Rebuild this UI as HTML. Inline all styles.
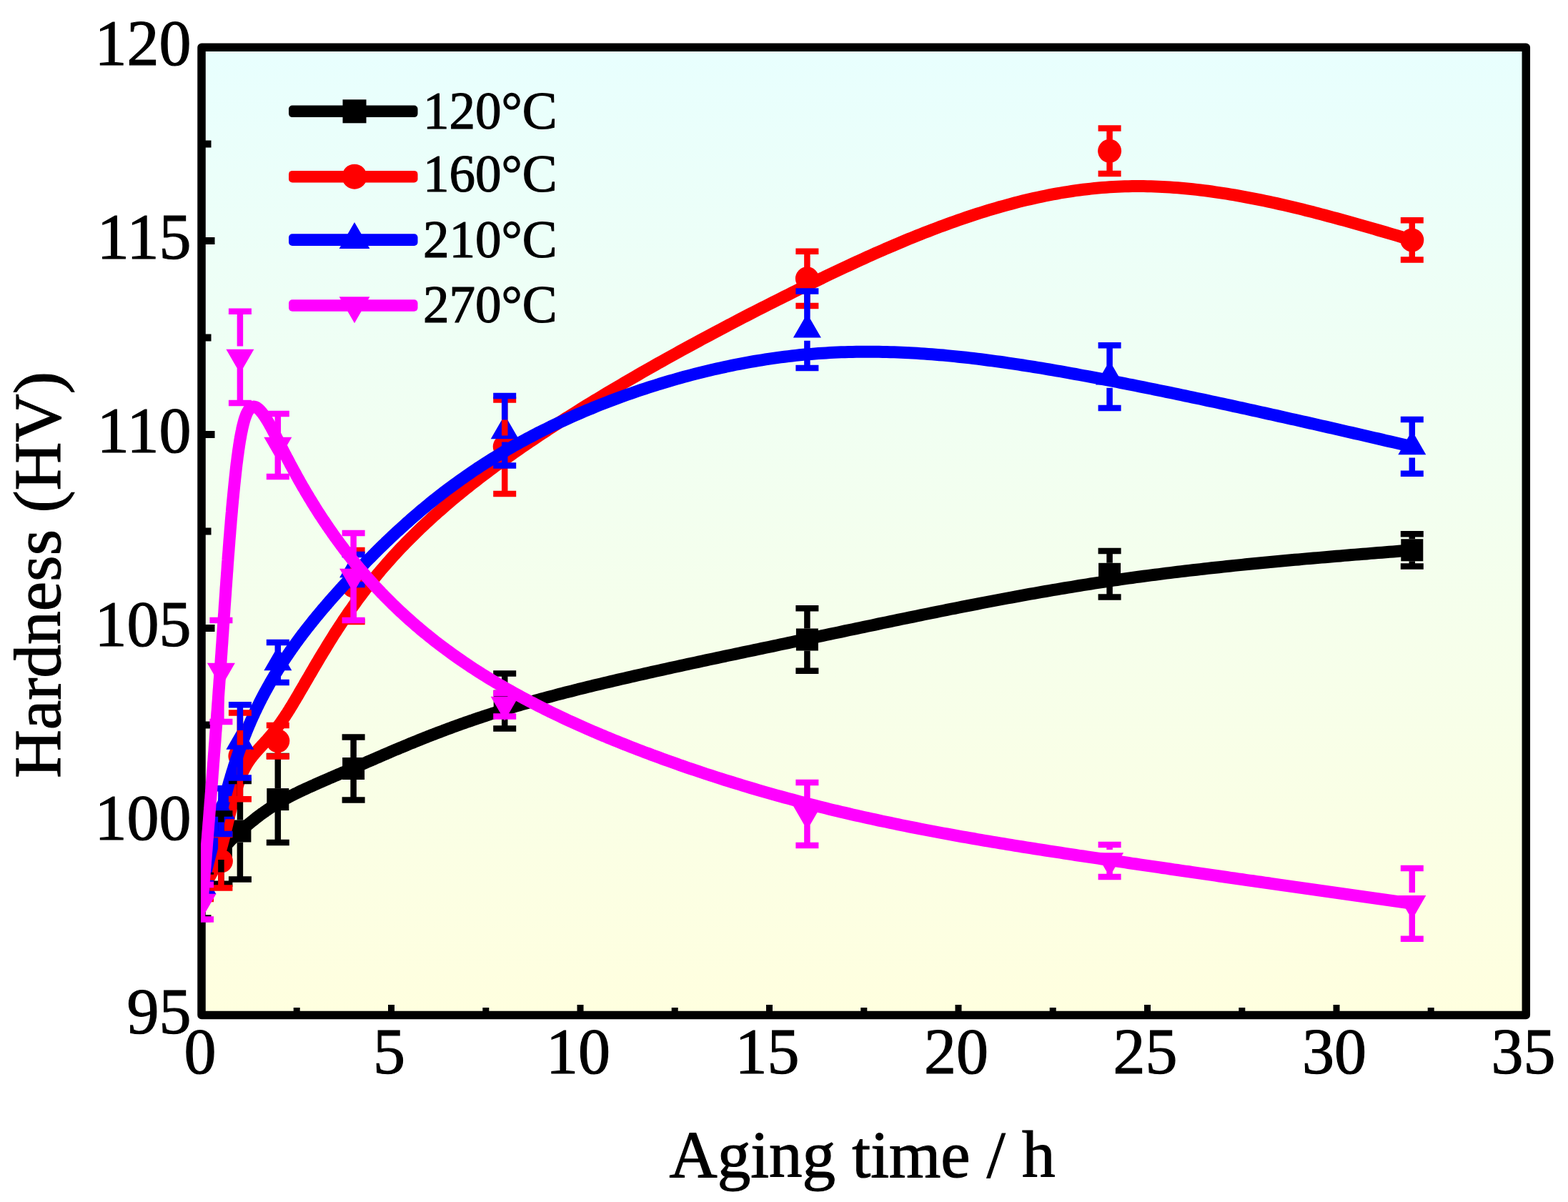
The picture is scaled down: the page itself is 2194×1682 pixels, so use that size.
<!DOCTYPE html>
<html><head><meta charset="utf-8"><title>Hardness vs aging time</title>
<style>html,body{margin:0;padding:0;background:#fff;width:2194px;height:1682px;overflow:hidden}svg{display:block}</style>
</head><body>
<svg width="2194" height="1682" viewBox="0 0 2194 1682"><defs><linearGradient id="bg" x1="0" y1="0" x2="0" y2="1"><stop offset="0" stop-color="#e8fffe"/><stop offset="1" stop-color="#ffffdf"/></linearGradient></defs>
<rect x="282" y="66.2" width="1853.3" height="1354.3" fill="url(#bg)"/>
<clipPath id="clip"><rect x="281" y="66.2" width="1854.3" height="1354.3"/></clipPath>
<rect x="282" y="66.2" width="1853.3" height="1354.3" fill="none" stroke="#000" stroke-width="11.5" stroke-linejoin="round"/>
<path d="M415.2,1420.5v-10.5 M547.5,1420.5v-14.5 M679.8,1420.5v-10.5 M812,1420.5v-14.5 M944.2,1420.5v-10.5 M1076.5,1420.5v-14.5 M1208.8,1420.5v-10.5 M1341,1420.5v-14.5 M1473.2,1420.5v-10.5 M1605.5,1420.5v-14.5 M1737.8,1420.5v-10.5 M1870,1420.5v-14.5 M2002.2,1420.5v-10.5" stroke="#000" stroke-width="9" fill="none"/>
<path d="M282,1285.2h13.5 M282,1149.8h18.5 M282,1014.4h13.5 M282,878.9h18.5 M282,743.5h13.5 M282,608h18.5 M282,472.6h13.5 M282,337.1h18.5 M282,201.6h13.5" stroke="#000" stroke-width="10" fill="none"/>
<g clip-path="url(#clip)">
<path d="M283,1240 L283.3,1239.3 L283.7,1238.7 L284,1238 L284.3,1237.4 L284.7,1236.7 L285,1236.1 L285.3,1235.4 L285.6,1234.8 L286,1234.1 L286.3,1233.5 L286.6,1232.8 L287,1232.2 L287.3,1231.5 L287.6,1230.9 L288,1230.2 L288.3,1229.6 L288.6,1228.9 L289,1228.3 L289.3,1227.6 L289.6,1227 L289.9,1226.3 L290.3,1225.7 L290.6,1225 L290.9,1224.4 L291.3,1223.8 L291.6,1223.1 L291.9,1222.5 L292.3,1221.9 L292.6,1221.2 L292.9,1220.6 L293.2,1220 L293.6,1219.3 L293.9,1218.7 L294.2,1218.1 L294.6,1217.5 L294.9,1216.8 L295.2,1216.2 L295.6,1215.6 L295.9,1215 L296.2,1214.4 L296.6,1213.8 L296.9,1213.2 L297.2,1212.6 L297.5,1212 L297.9,1211.3 L298.2,1210.8 L298.5,1210.2 L298.9,1209.6 L299.2,1209 L299.5,1208.4 L299.9,1207.8 L300.2,1207.2 L300.5,1206.6 L300.9,1206.1 L301.2,1205.5 L301.5,1204.9 L301.8,1204.3 L302.2,1203.8 L302.5,1203.2 L302.8,1202.7 L303.2,1202.1 L303.5,1201.5 L303.8,1201 L304.2,1200.5 L304.5,1199.9 L304.8,1199.4 L305.2,1198.8 L305.5,1198.3 L305.8,1197.8 L306.1,1197.3 L306.5,1196.7 L306.8,1196.2 L307.1,1195.7 L307.5,1195.2 L307.8,1194.7 L308.1,1194.2 L308.5,1193.7 L308.8,1193.2 L309.1,1192.7 L309.4,1192.2 L309.8,1191.8 L310.1,1191.3 L310.4,1190.8 L310.8,1190.3 L311.1,1189.9 L311.4,1189.4 L311.8,1189 L312.1,1188.5 L312.4,1188.1 L312.8,1187.6 L313.1,1187.2 L313.4,1186.7 L313.8,1186.3 L314.1,1185.9 L314.4,1185.5 L314.8,1185 L315.1,1184.6 L315.5,1184.2 L315.8,1183.8 L316.1,1183.4 L316.5,1182.9 L316.8,1182.5 L317.2,1182.1 L317.5,1181.7 L317.9,1181.3 L318.2,1180.9 L318.5,1180.5 L318.9,1180.1 L319.2,1179.7 L319.6,1179.3 L320,1178.9 L320.3,1178.5 L320.7,1178.2 L321,1177.8 L321.4,1177.4 L321.8,1177 L322.1,1176.6 L322.5,1176.2 L322.9,1175.8 L323.2,1175.5 L323.6,1175.1 L324,1174.7 L324.4,1174.3 L324.7,1173.9 L325.1,1173.6 L325.5,1173.2 L325.9,1172.8 L326.3,1172.4 L326.7,1172 L327.1,1171.7 L327.5,1171.3 L327.9,1170.9 L328.3,1170.5 L328.7,1170.1 L329.1,1169.8 L329.5,1169.4 L329.9,1169 L330.3,1168.6 L330.7,1168.2 L331.1,1167.8 L331.6,1167.4 L332,1167.1 L332.4,1166.7 L332.9,1166.3 L333.3,1165.9 L333.7,1165.5 L334.2,1165.1 L334.6,1164.7 L335.1,1164.3 L335.5,1163.9 L336,1163.5 L336.5,1163.1 L336.9,1162.6 L337.4,1162.2 L337.9,1161.8 L338.4,1161.4 L338.8,1161 L339.3,1160.6 L339.8,1160.1 L340.3,1159.7 L340.8,1159.3 L341.3,1158.8 L341.8,1158.4 L342.3,1158 L342.8,1157.5 L343.4,1157.1 L343.9,1156.6 L344.4,1156.2 L344.9,1155.7 L345.5,1155.2 L346,1154.8 L346.6,1154.3 L347.1,1153.8 L347.7,1153.4 L348.2,1152.9 L348.8,1152.4 L349.4,1152 L350,1151.5 L350.5,1151 L351.1,1150.5 L351.7,1150 L352.3,1149.5 L352.9,1149 L353.5,1148.6 L354.1,1148.1 L354.8,1147.6 L355.4,1147.1 L356,1146.6 L356.6,1146.1 L357.3,1145.6 L357.9,1145 L358.6,1144.5 L359.2,1144 L359.9,1143.5 L360.6,1143 L361.2,1142.5 L361.9,1142 L362.6,1141.5 L363.3,1140.9 L364,1140.4 L364.7,1139.9 L365.4,1139.4 L366.1,1138.8 L366.9,1138.3 L367.6,1137.8 L368.3,1137.3 L369.1,1136.7 L369.8,1136.2 L370.6,1135.7 L371.3,1135.1 L372.1,1134.6 L372.9,1134.1 L373.7,1133.5 L374.5,1133 L375.3,1132.4 L376.1,1131.9 L376.9,1131.4 L377.7,1130.8 L378.5,1130.3 L379.4,1129.7 L380.2,1129.2 L381.1,1128.7 L381.9,1128.1 L382.8,1127.6 L383.6,1127 L384.5,1126.5 L385.4,1125.9 L386.3,1125.4 L387.2,1124.8 L388.1,1124.3 L389,1123.7 L389.9,1123.2 L390.9,1122.6 L391.8,1122.1 L392.8,1121.6 L393.7,1121 L394.7,1120.5 L395.6,1119.9 L396.6,1119.4 L397.6,1118.8 L398.6,1118.3 L399.6,1117.7 L400.6,1117.2 L401.7,1116.6 L402.7,1116.1 L403.7,1115.5 L404.8,1115 L405.8,1114.4 L406.9,1113.9 L408,1113.3 L409.1,1112.8 L410.1,1112.2 L411.2,1111.7 L412.4,1111.1 L413.5,1110.6 L414.6,1110 L415.8,1109.5 L416.9,1108.9 L418.1,1108.3 L419.2,1107.8 L420.4,1107.2 L421.6,1106.7 L422.8,1106.1 L424,1105.5 L425.3,1104.9 L426.5,1104.4 L427.7,1103.8 L429,1103.2 L430.3,1102.6 L431.6,1102 L432.8,1101.5 L434.2,1100.9 L435.5,1100.3 L436.8,1099.7 L438.1,1099.1 L439.5,1098.5 L440.8,1097.9 L442.2,1097.2 L443.6,1096.6 L445,1096 L446.4,1095.4 L447.8,1094.8 L449.3,1094.1 L450.7,1093.5 L452.2,1092.9 L453.7,1092.2 L455.2,1091.6 L456.7,1090.9 L458.2,1090.3 L459.7,1089.6 L461.2,1088.9 L462.8,1088.3 L464.4,1087.6 L465.9,1086.9 L467.5,1086.2 L469.1,1085.5 L470.8,1084.8 L472.4,1084.1 L474.1,1083.4 L475.7,1082.7 L477.4,1082 L479.1,1081.2 L480.8,1080.5 L482.5,1079.8 L484.3,1079 L486,1078.3 L487.8,1077.5 L489.6,1076.7 L491.4,1076 L493.2,1075.2 L495,1074.4 L496.9,1073.6 L498.7,1072.8 L500.6,1072 L502.5,1071.2 L504.4,1070.3 L506.4,1069.5 L508.3,1068.7 L510.3,1067.8 L512.2,1067 L514.2,1066.1 L516.2,1065.2 L518.3,1064.4 L520.3,1063.5 L522.4,1062.6 L524.4,1061.7 L526.5,1060.8 L528.6,1059.9 L530.8,1058.9 L532.9,1058 L535.1,1057.1 L537.3,1056.1 L539.5,1055.2 L541.7,1054.2 L544,1053.3 L546.2,1052.3 L548.5,1051.3 L550.8,1050.3 L553.1,1049.3 L555.5,1048.3 L557.9,1047.3 L560.2,1046.3 L562.7,1045.3 L565.1,1044.3 L567.5,1043.3 L570,1042.3 L572.5,1041.2 L575,1040.2 L577.6,1039.2 L580.1,1038.1 L582.7,1037.1 L585.3,1036 L587.9,1035 L590.6,1033.9 L593.3,1032.8 L596,1031.8 L598.7,1030.7 L601.4,1029.6 L604.2,1028.5 L607,1027.5 L609.8,1026.4 L612.7,1025.3 L615.6,1024.2 L618.5,1023.1 L621.4,1022 L624.3,1020.9 L627.3,1019.8 L630.3,1018.7 L633.3,1017.6 L636.4,1016.4 L639.5,1015.3 L642.6,1014.2 L645.7,1013.1 L648.9,1012 L652.1,1010.8 L655.3,1009.7 L658.5,1008.6 L661.8,1007.5 L665.1,1006.3 L668.5,1005.2 L671.8,1004.1 L675.2,1002.9 L678.6,1001.8 L682.1,1000.7 L685.6,999.5 L689.1,998.4 L692.6,997.3 L696.2,996.1 L699.8,995 L703.4,993.9 L707.1,992.7 L710.8,991.6 L714.5,990.5 L718.2,989.3 L722,988.2 L725.9,987.1 L729.7,985.9 L733.6,984.8 L737.5,983.7 L741.5,982.5 L745.5,981.4 L749.5,980.3 L753.5,979.2 L757.6,978 L761.7,976.9 L765.9,975.8 L770,974.7 L774.2,973.6 L778.5,972.4 L782.7,971.3 L787,970.2 L791.3,969.1 L795.7,968 L800.1,966.9 L804.5,965.8 L808.9,964.6 L813.4,963.5 L817.8,962.4 L822.3,961.3 L826.9,960.2 L831.4,959.1 L836,958 L840.6,956.9 L845.3,955.8 L849.9,954.7 L854.6,953.6 L859.3,952.5 L864,951.4 L868.7,950.3 L873.5,949.2 L878.3,948.1 L883.1,947 L887.9,945.9 L892.8,944.8 L897.6,943.7 L902.5,942.6 L907.4,941.5 L912.3,940.4 L917.3,939.3 L922.2,938.2 L927.2,937.1 L932.2,936 L937.2,934.9 L942.2,933.8 L947.2,932.7 L952.2,931.6 L957.3,930.5 L962.4,929.4 L967.5,928.3 L972.6,927.2 L977.7,926.1 L982.8,925 L987.9,923.9 L993.1,922.8 L998.2,921.7 L1003.4,920.6 L1008.6,919.5 L1013.8,918.4 L1018.9,917.3 L1024.2,916.2 L1029.4,915.1 L1034.6,914 L1039.8,912.9 L1045,911.8 L1050.3,910.7 L1055.5,909.6 L1060.8,908.5 L1066,907.4 L1071.3,906.3 L1076.6,905.2 L1081.8,904.1 L1087.1,903 L1092.4,901.8 L1097.7,900.7 L1103,899.6 L1108.2,898.5 L1113.5,897.4 L1118.8,896.3 L1124.1,895.2 L1129.4,894.1 L1134.7,893 L1140,891.9 L1145.3,890.7 L1150.6,889.6 L1155.8,888.5 L1161.1,887.4 L1166.4,886.3 L1171.7,885.2 L1177,884.1 L1182.3,882.9 L1187.6,881.8 L1192.9,880.7 L1198.2,879.6 L1203.5,878.5 L1208.8,877.4 L1214,876.3 L1219.3,875.2 L1224.6,874.1 L1229.9,872.9 L1235.2,871.8 L1240.5,870.7 L1245.8,869.6 L1251.1,868.5 L1256.4,867.4 L1261.7,866.3 L1266.9,865.2 L1272.2,864.2 L1277.5,863.1 L1282.8,862 L1288.1,860.9 L1293.4,859.8 L1298.7,858.7 L1304,857.7 L1309.3,856.6 L1314.5,855.5 L1319.8,854.5 L1325.1,853.4 L1330.4,852.3 L1335.7,851.3 L1341,850.2 L1346.3,849.2 L1351.6,848.2 L1356.9,847.1 L1362.2,846.1 L1367.4,845.1 L1372.7,844 L1378,843 L1383.3,842 L1388.6,841 L1393.9,840 L1399.2,839 L1404.5,838 L1409.8,837 L1415.1,836.1 L1420.3,835.1 L1425.6,834.1 L1430.9,833.2 L1436.2,832.2 L1441.5,831.2 L1446.8,830.3 L1452.1,829.4 L1457.4,828.4 L1462.7,827.5 L1468,826.6 L1473.2,825.7 L1478.5,824.8 L1483.8,823.9 L1489.1,823 L1494.4,822.1 L1499.7,821.3 L1505,820.4 L1510.3,819.5 L1515.6,818.7 L1520.9,817.9 L1526.1,817 L1531.4,816.2 L1536.7,815.4 L1542,814.6 L1547.3,813.8 L1552.6,813 L1557.9,812.2 L1563.2,811.5 L1568.5,810.7 L1573.8,809.9 L1579,809.2 L1584.3,808.5 L1589.6,807.7 L1594.9,807 L1600.2,806.3 L1605.5,805.6 L1610.8,804.9 L1616.1,804.2 L1621.4,803.6 L1626.7,802.9 L1631.9,802.2 L1637.2,801.6 L1642.5,800.9 L1647.8,800.3 L1653.1,799.6 L1658.4,799 L1663.7,798.4 L1669,797.8 L1674.3,797.2 L1679.6,796.6 L1684.8,796 L1690.1,795.4 L1695.4,794.8 L1700.7,794.2 L1706,793.7 L1711.3,793.1 L1716.6,792.5 L1721.9,792 L1727.2,791.4 L1732.5,790.9 L1737.8,790.4 L1743,789.8 L1748.3,789.3 L1753.6,788.8 L1758.9,788.3 L1764.2,787.8 L1769.5,787.3 L1774.8,786.8 L1780.1,786.3 L1785.4,785.8 L1790.6,785.3 L1795.9,784.8 L1801.2,784.3 L1806.5,783.8 L1811.8,783.3 L1817.1,782.9 L1822.4,782.4 L1827.7,781.9 L1833,781.5 L1838.3,781 L1843.5,780.6 L1848.8,780.1 L1854.1,779.7 L1859.4,779.2 L1864.7,778.8 L1870,778.3 L1875.3,777.9 L1880.6,777.4 L1885.9,777 L1891.2,776.6 L1896.4,776.1 L1901.7,775.7 L1907,775.3 L1912.3,774.9 L1917.6,774.4 L1922.9,774 L1928.2,773.6 L1933.5,773.2 L1938.8,772.7 L1944.1,772.3 L1949.3,771.9 L1954.6,771.5 L1959.9,771.1 L1965.2,770.6 L1970.5,770.2 L1975.8,769.8" stroke="#000000" stroke-width="17" fill="none" stroke-linejoin="round" stroke-linecap="round"/>
<rect x="267.5" y="1224.5" width="31" height="31" fill="#000000"/>
<rect x="293.9" y="1172.1" width="31" height="31" fill="#000000"/>
<rect x="320.4" y="1147.5" width="31" height="31" fill="#000000"/>
<rect x="373.3" y="1103.1" width="31" height="31" fill="#000000"/>
<rect x="479.1" y="1060" width="31" height="31" fill="#000000"/>
<rect x="690.7" y="965.7" width="31" height="31" fill="#000000"/>
<rect x="1113.9" y="879.5" width="31" height="31" fill="#000000"/>
<rect x="1537.1" y="787.8" width="31" height="31" fill="#000000"/>
<rect x="1960.3" y="754.3" width="31" height="31" fill="#000000"/>
<path d="M283,1243 L283.3,1242.5 L283.7,1242 L284,1241.6 L284.3,1241.1 L284.7,1240.6 L285,1240.1 L285.3,1239.7 L285.6,1239.2 L286,1238.7 L286.3,1238.2 L286.6,1237.7 L287,1237.2 L287.3,1236.7 L287.6,1236.3 L288,1235.8 L288.3,1235.3 L288.6,1234.8 L289,1234.2 L289.3,1233.7 L289.6,1233.2 L289.9,1232.7 L290.3,1232.2 L290.6,1231.6 L290.9,1231.1 L291.3,1230.6 L291.6,1230 L291.9,1229.5 L292.3,1228.9 L292.6,1228.4 L292.9,1227.8 L293.2,1227.2 L293.6,1226.6 L293.9,1226 L294.2,1225.5 L294.6,1224.9 L294.9,1224.2 L295.2,1223.6 L295.6,1223 L295.9,1222.4 L296.2,1221.7 L296.6,1221.1 L296.9,1220.4 L297.2,1219.8 L297.5,1219.1 L297.9,1218.4 L298.2,1217.7 L298.5,1217 L298.9,1216.3 L299.2,1215.6 L299.5,1214.8 L299.9,1214.1 L300.2,1213.3 L300.5,1212.5 L300.9,1211.8 L301.2,1211 L301.5,1210.2 L301.8,1209.4 L302.2,1208.5 L302.5,1207.7 L302.8,1206.8 L303.2,1206 L303.5,1205.1 L303.8,1204.2 L304.2,1203.3 L304.5,1202.4 L304.8,1201.4 L305.2,1200.5 L305.5,1199.5 L305.8,1198.6 L306.1,1197.6 L306.5,1196.6 L306.8,1195.6 L307.1,1194.5 L307.5,1193.5 L307.8,1192.4 L308.1,1191.3 L308.5,1190.2 L308.8,1189.1 L309.1,1188 L309.4,1186.8 L309.8,1185.7 L310.1,1184.5 L310.4,1183.3 L310.8,1182.1 L311.1,1180.8 L311.4,1179.6 L311.8,1178.3 L312.1,1177.1 L312.4,1175.8 L312.8,1174.5 L313.1,1173.2 L313.4,1171.9 L313.8,1170.5 L314.1,1169.2 L314.4,1167.8 L314.8,1166.5 L315.1,1165.1 L315.5,1163.7 L315.8,1162.3 L316.1,1160.9 L316.5,1159.5 L316.8,1158.1 L317.2,1156.7 L317.5,1155.2 L317.9,1153.8 L318.2,1152.4 L318.5,1150.9 L318.9,1149.5 L319.2,1148 L319.6,1146.5 L320,1145.1 L320.3,1143.6 L320.7,1142.2 L321,1140.7 L321.4,1139.2 L321.8,1137.7 L322.1,1136.3 L322.5,1134.8 L322.9,1133.3 L323.2,1131.8 L323.6,1130.4 L324,1128.9 L324.4,1127.4 L324.7,1126 L325.1,1124.5 L325.5,1123.1 L325.9,1121.6 L326.3,1120.2 L326.7,1118.7 L327.1,1117.3 L327.5,1115.9 L327.9,1114.4 L328.3,1113 L328.7,1111.6 L329.1,1110.2 L329.5,1108.8 L329.9,1107.4 L330.3,1106 L330.7,1104.7 L331.1,1103.3 L331.6,1102 L332,1100.6 L332.4,1099.3 L332.9,1098 L333.3,1096.7 L333.7,1095.4 L334.2,1094.1 L334.6,1092.9 L335.1,1091.6 L335.5,1090.4 L336,1089.2 L336.5,1088 L336.9,1086.8 L337.4,1085.6 L337.9,1084.5 L338.4,1083.3 L338.8,1082.2 L339.3,1081.1 L339.8,1080 L340.3,1079 L340.8,1077.9 L341.3,1076.9 L341.8,1075.9 L342.3,1074.9 L342.8,1073.9 L343.4,1073 L343.9,1072.1 L344.4,1071.1 L344.9,1070.2 L345.5,1069.3 L346,1068.5 L346.6,1067.6 L347.1,1066.7 L347.7,1065.9 L348.2,1065.1 L348.8,1064.2 L349.4,1063.4 L350,1062.6 L350.5,1061.8 L351.1,1061 L351.7,1060.3 L352.3,1059.5 L352.9,1058.7 L353.5,1058 L354.1,1057.2 L354.8,1056.4 L355.4,1055.7 L356,1054.9 L356.6,1054.2 L357.3,1053.4 L357.9,1052.7 L358.6,1052 L359.2,1051.2 L359.9,1050.5 L360.6,1049.7 L361.2,1049 L361.9,1048.2 L362.6,1047.5 L363.3,1046.7 L364,1045.9 L364.7,1045.2 L365.4,1044.4 L366.1,1043.6 L366.9,1042.8 L367.6,1042 L368.3,1041.2 L369.1,1040.4 L369.8,1039.6 L370.6,1038.7 L371.3,1037.9 L372.1,1037 L372.9,1036.2 L373.7,1035.3 L374.5,1034.4 L375.3,1033.5 L376.1,1032.5 L376.9,1031.6 L377.7,1030.6 L378.5,1029.7 L379.4,1028.7 L380.2,1027.7 L381.1,1026.6 L381.9,1025.6 L382.8,1024.5 L383.6,1023.4 L384.5,1022.3 L385.4,1021.2 L386.3,1020 L387.2,1018.9 L388.1,1017.7 L389,1016.4 L389.9,1015.2 L390.9,1013.9 L391.8,1012.6 L392.8,1011.3 L393.7,1009.9 L394.7,1008.5 L395.6,1007.1 L396.6,1005.7 L397.6,1004.2 L398.6,1002.7 L399.6,1001.2 L400.6,999.6 L401.7,998 L402.7,996.4 L403.7,994.7 L404.8,993.1 L405.8,991.4 L406.9,989.6 L408,987.9 L409.1,986.1 L410.1,984.3 L411.2,982.4 L412.4,980.6 L413.5,978.7 L414.6,976.8 L415.8,974.8 L416.9,972.9 L418.1,970.9 L419.2,968.9 L420.4,966.9 L421.6,964.8 L422.8,962.8 L424,960.7 L425.3,958.6 L426.5,956.4 L427.7,954.3 L429,952.1 L430.3,949.9 L431.6,947.7 L432.8,945.5 L434.2,943.3 L435.5,941 L436.8,938.7 L438.1,936.5 L439.5,934.1 L440.8,931.8 L442.2,929.5 L443.6,927.1 L445,924.8 L446.4,922.4 L447.8,920 L449.3,917.6 L450.7,915.2 L452.2,912.8 L453.7,910.3 L455.2,907.9 L456.7,905.4 L458.2,902.9 L459.7,900.5 L461.2,898 L462.8,895.5 L464.4,893 L465.9,890.5 L467.5,887.9 L469.1,885.4 L470.8,882.9 L472.4,880.3 L474.1,877.8 L475.7,875.2 L477.4,872.7 L479.1,870.1 L480.8,867.5 L482.5,865 L484.3,862.4 L486,859.8 L487.8,857.2 L489.6,854.6 L491.4,852.1 L493.2,849.5 L495,846.9 L496.9,844.3 L498.7,841.7 L500.6,839.1 L502.5,836.5 L504.4,834 L506.4,831.4 L508.3,828.8 L510.3,826.2 L512.2,823.6 L514.2,821.1 L516.2,818.5 L518.3,815.9 L520.3,813.4 L522.4,810.8 L524.4,808.2 L526.5,805.7 L528.6,803.1 L530.8,800.6 L532.9,798 L535.1,795.5 L537.3,793 L539.5,790.4 L541.7,787.9 L544,785.3 L546.2,782.8 L548.5,780.3 L550.8,777.7 L553.1,775.2 L555.5,772.7 L557.9,770.1 L560.2,767.6 L562.7,765.1 L565.1,762.6 L567.5,760 L570,757.5 L572.5,755 L575,752.5 L577.6,749.9 L580.1,747.4 L582.7,744.9 L585.3,742.4 L587.9,739.8 L590.6,737.3 L593.3,734.8 L596,732.2 L598.7,729.7 L601.4,727.2 L604.2,724.7 L607,722.1 L609.8,719.6 L612.7,717 L615.6,714.5 L618.5,712 L621.4,709.4 L624.3,706.9 L627.3,704.3 L630.3,701.8 L633.3,699.2 L636.4,696.7 L639.5,694.1 L642.6,691.6 L645.7,689 L648.9,686.4 L652.1,683.9 L655.3,681.3 L658.5,678.7 L661.8,676.1 L665.1,673.6 L668.5,671 L671.8,668.4 L675.2,665.8 L678.6,663.2 L682.1,660.6 L685.6,658 L689.1,655.4 L692.6,652.8 L696.2,650.1 L699.8,647.5 L703.4,644.9 L707.1,642.3 L710.8,639.6 L714.5,637 L718.2,634.3 L722,631.7 L725.9,629 L729.7,626.3 L733.6,623.7 L737.5,621 L741.5,618.3 L745.5,615.6 L749.5,612.9 L753.5,610.2 L757.6,607.5 L761.7,604.8 L765.9,602.1 L770,599.3 L774.2,596.6 L778.5,593.9 L782.7,591.1 L787,588.4 L791.3,585.6 L795.7,582.9 L800.1,580.1 L804.5,577.4 L808.9,574.6 L813.4,571.8 L817.8,569.1 L822.3,566.3 L826.9,563.5 L831.4,560.7 L836,558 L840.6,555.2 L845.3,552.4 L849.9,549.6 L854.6,546.8 L859.3,544 L864,541.2 L868.7,538.5 L873.5,535.7 L878.3,532.9 L883.1,530.1 L887.9,527.3 L892.8,524.5 L897.6,521.7 L902.5,518.9 L907.4,516.1 L912.3,513.3 L917.3,510.5 L922.2,507.7 L927.2,505 L932.2,502.2 L937.2,499.4 L942.2,496.6 L947.2,493.8 L952.2,491 L957.3,488.3 L962.4,485.5 L967.5,482.7 L972.6,480 L977.7,477.2 L982.8,474.4 L987.9,471.7 L993.1,468.9 L998.2,466.2 L1003.4,463.4 L1008.6,460.7 L1013.8,457.9 L1018.9,455.2 L1024.2,452.5 L1029.4,449.8 L1034.6,447 L1039.8,444.3 L1045,441.6 L1050.3,438.9 L1055.5,436.2 L1060.8,433.5 L1066,430.9 L1071.3,428.2 L1076.6,425.5 L1081.8,422.9 L1087.1,420.2 L1092.4,417.6 L1097.7,414.9 L1103,412.3 L1108.2,409.7 L1113.5,407 L1118.8,404.4 L1124.1,401.8 L1129.4,399.2 L1134.7,396.7 L1140,394.1 L1145.3,391.5 L1150.6,389 L1155.8,386.4 L1161.1,383.9 L1166.4,381.4 L1171.7,378.9 L1177,376.4 L1182.3,373.9 L1187.6,371.5 L1192.9,369 L1198.2,366.6 L1203.5,364.1 L1208.8,361.7 L1214,359.3 L1219.3,357 L1224.6,354.6 L1229.9,352.3 L1235.2,350 L1240.5,347.6 L1245.8,345.4 L1251.1,343.1 L1256.4,340.9 L1261.7,338.6 L1266.9,336.4 L1272.2,334.2 L1277.5,332.1 L1282.8,329.9 L1288.1,327.8 L1293.4,325.7 L1298.7,323.7 L1304,321.6 L1309.3,319.6 L1314.5,317.6 L1319.8,315.7 L1325.1,313.7 L1330.4,311.8 L1335.7,309.9 L1341,308 L1346.3,306.2 L1351.6,304.4 L1356.9,302.6 L1362.2,300.9 L1367.4,299.2 L1372.7,297.5 L1378,295.8 L1383.3,294.2 L1388.6,292.6 L1393.9,291.1 L1399.2,289.5 L1404.5,288.1 L1409.8,286.6 L1415.1,285.2 L1420.3,283.8 L1425.6,282.4 L1430.9,281.1 L1436.2,279.8 L1441.5,278.6 L1446.8,277.4 L1452.1,276.2 L1457.4,275.1 L1462.7,274 L1468,272.9 L1473.2,271.9 L1478.5,271 L1483.8,270 L1489.1,269.1 L1494.4,268.3 L1499.7,267.5 L1505,266.7 L1510.3,266 L1515.6,265.3 L1520.9,264.7 L1526.1,264.1 L1531.4,263.5 L1536.7,263 L1542,262.6 L1547.3,262.2 L1552.6,261.8 L1557.9,261.5 L1563.2,261.2 L1568.5,261 L1573.8,260.8 L1579,260.7 L1584.3,260.6 L1589.6,260.6 L1594.9,260.6 L1600.2,260.6 L1605.5,260.7 L1610.8,260.8 L1616.1,261 L1621.4,261.2 L1626.7,261.5 L1631.9,261.8 L1637.2,262.1 L1642.5,262.4 L1647.8,262.8 L1653.1,263.3 L1658.4,263.8 L1663.7,264.3 L1669,264.8 L1674.3,265.4 L1679.6,266 L1684.8,266.7 L1690.1,267.3 L1695.4,268 L1700.7,268.8 L1706,269.6 L1711.3,270.4 L1716.6,271.2 L1721.9,272.1 L1727.2,272.9 L1732.5,273.9 L1737.8,274.8 L1743,275.8 L1748.3,276.8 L1753.6,277.8 L1758.9,278.8 L1764.2,279.9 L1769.5,281 L1774.8,282.1 L1780.1,283.3 L1785.4,284.4 L1790.6,285.6 L1795.9,286.8 L1801.2,288 L1806.5,289.3 L1811.8,290.6 L1817.1,291.8 L1822.4,293.1 L1827.7,294.5 L1833,295.8 L1838.3,297.1 L1843.5,298.5 L1848.8,299.9 L1854.1,301.3 L1859.4,302.7 L1864.7,304.1 L1870,305.5 L1875.3,307 L1880.6,308.4 L1885.9,309.9 L1891.2,311.4 L1896.4,312.9 L1901.7,314.4 L1907,315.9 L1912.3,317.4 L1917.6,318.9 L1922.9,320.4 L1928.2,322 L1933.5,323.5 L1938.8,325 L1944.1,326.6 L1949.3,328.1 L1954.6,329.7 L1959.9,331.2 L1965.2,332.8 L1970.5,334.3 L1975.8,335.9" stroke="#ff0000" stroke-width="17" fill="none" stroke-linejoin="round" stroke-linecap="round"/>
<circle cx="283" cy="1243" r="16.5" fill="#ff0000"/>
<circle cx="309.4" cy="1205" r="16.5" fill="#ff0000"/>
<circle cx="335.9" cy="1058" r="16.5" fill="#ff0000"/>
<circle cx="388.8" cy="1036.8" r="16.5" fill="#ff0000"/>
<circle cx="494.6" cy="820" r="16.5" fill="#ff0000"/>
<circle cx="706.2" cy="625" r="16.5" fill="#ff0000"/>
<circle cx="1129.4" cy="389.8" r="16.5" fill="#ff0000"/>
<circle cx="1552.6" cy="211.3" r="16.5" fill="#ff0000"/>
<circle cx="1975.8" cy="335.9" r="16.5" fill="#ff0000"/>
<path d="M283,1240 L283.3,1238.7 L283.7,1237.4 L284,1236.1 L284.3,1234.8 L284.7,1233.4 L285,1232.1 L285.3,1230.8 L285.6,1229.5 L286,1228.2 L286.3,1226.9 L286.6,1225.6 L287,1224.3 L287.3,1222.9 L287.6,1221.6 L288,1220.3 L288.3,1219 L288.6,1217.7 L289,1216.4 L289.3,1215.1 L289.6,1213.8 L289.9,1212.5 L290.3,1211.2 L290.6,1209.8 L290.9,1208.5 L291.3,1207.2 L291.6,1205.9 L291.9,1204.6 L292.3,1203.3 L292.6,1202 L292.9,1200.7 L293.2,1199.4 L293.6,1198.1 L293.9,1196.8 L294.2,1195.5 L294.6,1194.2 L294.9,1192.9 L295.2,1191.6 L295.6,1190.3 L295.9,1189 L296.2,1187.7 L296.6,1186.4 L296.9,1185.1 L297.2,1183.8 L297.5,1182.5 L297.9,1181.2 L298.2,1179.9 L298.5,1178.6 L298.9,1177.3 L299.2,1176 L299.5,1174.7 L299.9,1173.4 L300.2,1172.1 L300.5,1170.8 L300.9,1169.5 L301.2,1168.2 L301.5,1166.9 L301.8,1165.6 L302.2,1164.3 L302.5,1163.1 L302.8,1161.8 L303.2,1160.5 L303.5,1159.2 L303.8,1157.9 L304.2,1156.6 L304.5,1155.3 L304.8,1154.1 L305.2,1152.8 L305.5,1151.5 L305.8,1150.2 L306.1,1149 L306.5,1147.7 L306.8,1146.4 L307.1,1145.1 L307.5,1143.9 L307.8,1142.6 L308.1,1141.3 L308.5,1140 L308.8,1138.8 L309.1,1137.5 L309.4,1136.2 L309.8,1135 L310.1,1133.7 L310.4,1132.4 L310.8,1131.2 L311.1,1129.9 L311.4,1128.7 L311.8,1127.4 L312.1,1126.1 L312.4,1124.9 L312.8,1123.6 L313.1,1122.4 L313.4,1121.1 L313.8,1119.9 L314.1,1118.6 L314.4,1117.3 L314.8,1116.1 L315.1,1114.8 L315.5,1113.6 L315.8,1112.3 L316.1,1111.1 L316.5,1109.8 L316.8,1108.6 L317.2,1107.3 L317.5,1106.1 L317.9,1104.8 L318.2,1103.6 L318.5,1102.3 L318.9,1101.1 L319.2,1099.8 L319.6,1098.6 L320,1097.3 L320.3,1096.1 L320.7,1094.8 L321,1093.6 L321.4,1092.3 L321.8,1091.1 L322.1,1089.8 L322.5,1088.6 L322.9,1087.3 L323.2,1086.1 L323.6,1084.8 L324,1083.6 L324.4,1082.3 L324.7,1081.1 L325.1,1079.8 L325.5,1078.6 L325.9,1077.3 L326.3,1076.1 L326.7,1074.8 L327.1,1073.5 L327.5,1072.3 L327.9,1071 L328.3,1069.8 L328.7,1068.5 L329.1,1067.2 L329.5,1066 L329.9,1064.7 L330.3,1063.5 L330.7,1062.2 L331.1,1060.9 L331.6,1059.7 L332,1058.4 L332.4,1057.1 L332.9,1055.8 L333.3,1054.6 L333.7,1053.3 L334.2,1052 L334.6,1050.7 L335.1,1049.5 L335.5,1048.2 L336,1046.9 L336.5,1045.6 L336.9,1044.3 L337.4,1043 L337.9,1041.7 L338.4,1040.5 L338.8,1039.2 L339.3,1037.9 L339.8,1036.6 L340.3,1035.3 L340.8,1034 L341.3,1032.7 L341.8,1031.4 L342.3,1030.1 L342.8,1028.7 L343.4,1027.4 L343.9,1026.1 L344.4,1024.8 L344.9,1023.5 L345.5,1022.2 L346,1020.8 L346.6,1019.5 L347.1,1018.2 L347.7,1016.9 L348.2,1015.5 L348.8,1014.2 L349.4,1012.9 L350,1011.5 L350.5,1010.2 L351.1,1008.8 L351.7,1007.5 L352.3,1006.2 L352.9,1004.8 L353.5,1003.5 L354.1,1002.1 L354.8,1000.8 L355.4,999.4 L356,998 L356.6,996.7 L357.3,995.3 L357.9,993.9 L358.6,992.6 L359.2,991.2 L359.9,989.8 L360.6,988.4 L361.2,987.1 L361.9,985.7 L362.6,984.3 L363.3,982.9 L364,981.5 L364.7,980.1 L365.4,978.7 L366.1,977.3 L366.9,975.9 L367.6,974.5 L368.3,973.1 L369.1,971.7 L369.8,970.3 L370.6,968.9 L371.3,967.5 L372.1,966.1 L372.9,964.7 L373.7,963.2 L374.5,961.8 L375.3,960.4 L376.1,958.9 L376.9,957.5 L377.7,956.1 L378.5,954.6 L379.4,953.2 L380.2,951.7 L381.1,950.3 L381.9,948.8 L382.8,947.4 L383.6,945.9 L384.5,944.5 L385.4,943 L386.3,941.5 L387.2,940.1 L388.1,938.6 L389,937.1 L389.9,935.7 L390.9,934.2 L391.8,932.7 L392.8,931.2 L393.7,929.7 L394.7,928.2 L395.6,926.7 L396.6,925.2 L397.6,923.7 L398.6,922.2 L399.6,920.7 L400.6,919.2 L401.7,917.7 L402.7,916.2 L403.7,914.7 L404.8,913.1 L405.8,911.6 L406.9,910.1 L408,908.5 L409.1,907 L410.1,905.5 L411.2,903.9 L412.4,902.4 L413.5,900.8 L414.6,899.2 L415.8,897.7 L416.9,896.1 L418.1,894.5 L419.2,893 L420.4,891.4 L421.6,889.8 L422.8,888.2 L424,886.6 L425.3,885 L426.5,883.4 L427.7,881.8 L429,880.1 L430.3,878.5 L431.6,876.9 L432.8,875.3 L434.2,873.6 L435.5,872 L436.8,870.3 L438.1,868.7 L439.5,867 L440.8,865.3 L442.2,863.6 L443.6,861.9 L445,860.3 L446.4,858.6 L447.8,856.9 L449.3,855.1 L450.7,853.4 L452.2,851.7 L453.7,850 L455.2,848.2 L456.7,846.5 L458.2,844.7 L459.7,843 L461.2,841.2 L462.8,839.4 L464.4,837.6 L465.9,835.9 L467.5,834.1 L469.1,832.3 L470.8,830.4 L472.4,828.6 L474.1,826.8 L475.7,824.9 L477.4,823.1 L479.1,821.2 L480.8,819.4 L482.5,817.5 L484.3,815.6 L486,813.7 L487.8,811.8 L489.6,809.9 L491.4,808 L493.2,806.1 L495,804.2 L496.9,802.2 L498.7,800.3 L500.6,798.3 L502.5,796.3 L504.4,794.4 L506.4,792.4 L508.3,790.4 L510.3,788.4 L512.2,786.3 L514.2,784.3 L516.2,782.3 L518.3,780.2 L520.3,778.2 L522.4,776.1 L524.4,774 L526.5,771.9 L528.6,769.8 L530.8,767.7 L532.9,765.6 L535.1,763.5 L537.3,761.4 L539.5,759.2 L541.7,757.1 L544,755 L546.2,752.8 L548.5,750.6 L550.8,748.5 L553.1,746.3 L555.5,744.1 L557.9,742 L560.2,739.8 L562.7,737.6 L565.1,735.4 L567.5,733.2 L570,731 L572.5,728.8 L575,726.5 L577.6,724.3 L580.1,722.1 L582.7,719.9 L585.3,717.7 L587.9,715.4 L590.6,713.2 L593.3,711 L596,708.7 L598.7,706.5 L601.4,704.2 L604.2,702 L607,699.8 L609.8,697.5 L612.7,695.3 L615.6,693 L618.5,690.8 L621.4,688.5 L624.3,686.3 L627.3,684 L630.3,681.8 L633.3,679.6 L636.4,677.3 L639.5,675.1 L642.6,672.8 L645.7,670.6 L648.9,668.4 L652.1,666.1 L655.3,663.9 L658.5,661.7 L661.8,659.4 L665.1,657.2 L668.5,655 L671.8,652.8 L675.2,650.6 L678.6,648.4 L682.1,646.2 L685.6,644 L689.1,641.8 L692.6,639.6 L696.2,637.4 L699.8,635.2 L703.4,633.1 L707.1,630.9 L710.8,628.7 L714.5,626.6 L718.2,624.4 L722,622.3 L725.9,620.2 L729.7,618 L733.6,615.9 L737.5,613.8 L741.5,611.7 L745.5,609.6 L749.5,607.5 L753.5,605.4 L757.6,603.4 L761.7,601.3 L765.9,599.3 L770,597.2 L774.2,595.2 L778.5,593.2 L782.7,591.2 L787,589.2 L791.3,587.2 L795.7,585.2 L800.1,583.3 L804.5,581.3 L808.9,579.4 L813.4,577.4 L817.8,575.5 L822.3,573.6 L826.9,571.8 L831.4,569.9 L836,568 L840.6,566.2 L845.3,564.4 L849.9,562.6 L854.6,560.8 L859.3,559 L864,557.2 L868.7,555.5 L873.5,553.8 L878.3,552.1 L883.1,550.4 L887.9,548.7 L892.8,547 L897.6,545.4 L902.5,543.8 L907.4,542.2 L912.3,540.6 L917.3,539.1 L922.2,537.5 L927.2,536 L932.2,534.5 L937.2,533 L942.2,531.6 L947.2,530.1 L952.2,528.7 L957.3,527.3 L962.4,526 L967.5,524.6 L972.6,523.3 L977.7,522 L982.8,520.7 L987.9,519.5 L993.1,518.2 L998.2,517 L1003.4,515.9 L1008.6,514.7 L1013.8,513.6 L1018.9,512.5 L1024.2,511.4 L1029.4,510.3 L1034.6,509.3 L1039.8,508.3 L1045,507.4 L1050.3,506.4 L1055.5,505.5 L1060.8,504.6 L1066,503.8 L1071.3,502.9 L1076.6,502.1 L1081.8,501.4 L1087.1,500.6 L1092.4,499.9 L1097.7,499.2 L1103,498.6 L1108.2,498 L1113.5,497.4 L1118.8,496.8 L1124.1,496.3 L1129.4,495.8 L1134.7,495.4 L1140,495 L1145.3,494.6 L1150.6,494.2 L1155.8,493.9 L1161.1,493.6 L1166.4,493.3 L1171.7,493.1 L1177,492.8 L1182.3,492.7 L1187.6,492.5 L1192.9,492.4 L1198.2,492.3 L1203.5,492.2 L1208.8,492.2 L1214,492.2 L1219.3,492.2 L1224.6,492.2 L1229.9,492.3 L1235.2,492.4 L1240.5,492.5 L1245.8,492.7 L1251.1,492.8 L1256.4,493 L1261.7,493.2 L1266.9,493.5 L1272.2,493.7 L1277.5,494 L1282.8,494.3 L1288.1,494.7 L1293.4,495 L1298.7,495.4 L1304,495.8 L1309.3,496.2 L1314.5,496.7 L1319.8,497.1 L1325.1,497.6 L1330.4,498.1 L1335.7,498.6 L1341,499.2 L1346.3,499.7 L1351.6,500.3 L1356.9,500.9 L1362.2,501.5 L1367.4,502.2 L1372.7,502.8 L1378,503.5 L1383.3,504.2 L1388.6,504.9 L1393.9,505.6 L1399.2,506.3 L1404.5,507 L1409.8,507.8 L1415.1,508.6 L1420.3,509.3 L1425.6,510.1 L1430.9,511 L1436.2,511.8 L1441.5,512.6 L1446.8,513.5 L1452.1,514.3 L1457.4,515.2 L1462.7,516.1 L1468,517 L1473.2,517.9 L1478.5,518.8 L1483.8,519.7 L1489.1,520.7 L1494.4,521.6 L1499.7,522.6 L1505,523.5 L1510.3,524.5 L1515.6,525.5 L1520.9,526.4 L1526.1,527.4 L1531.4,528.4 L1536.7,529.4 L1542,530.4 L1547.3,531.5 L1552.6,532.5 L1557.9,533.5 L1563.2,534.5 L1568.5,535.6 L1573.8,536.6 L1579,537.7 L1584.3,538.7 L1589.6,539.8 L1594.9,540.8 L1600.2,541.9 L1605.5,543 L1610.8,544 L1616.1,545.1 L1621.4,546.2 L1626.7,547.3 L1631.9,548.4 L1637.2,549.4 L1642.5,550.5 L1647.8,551.6 L1653.1,552.7 L1658.4,553.9 L1663.7,555 L1669,556.1 L1674.3,557.2 L1679.6,558.3 L1684.8,559.4 L1690.1,560.6 L1695.4,561.7 L1700.7,562.8 L1706,564 L1711.3,565.1 L1716.6,566.3 L1721.9,567.4 L1727.2,568.6 L1732.5,569.7 L1737.8,570.9 L1743,572 L1748.3,573.2 L1753.6,574.4 L1758.9,575.5 L1764.2,576.7 L1769.5,577.9 L1774.8,579.1 L1780.1,580.2 L1785.4,581.4 L1790.6,582.6 L1795.9,583.8 L1801.2,585 L1806.5,586.2 L1811.8,587.3 L1817.1,588.5 L1822.4,589.7 L1827.7,590.9 L1833,592.1 L1838.3,593.3 L1843.5,594.5 L1848.8,595.7 L1854.1,596.9 L1859.4,598.1 L1864.7,599.3 L1870,600.6 L1875.3,601.8 L1880.6,603 L1885.9,604.2 L1891.2,605.4 L1896.4,606.6 L1901.7,607.8 L1907,609 L1912.3,610.3 L1917.6,611.5 L1922.9,612.7 L1928.2,613.9 L1933.5,615.1 L1938.8,616.4 L1944.1,617.6 L1949.3,618.8 L1954.6,620 L1959.9,621.2 L1965.2,622.5 L1970.5,623.7 L1975.8,624.9" stroke="#0000ff" stroke-width="17" fill="none" stroke-linejoin="round" stroke-linecap="round"/>
<polygon points="283,1217.5 302.5,1251.3 263.5,1251.3" fill="#0000ff"/>
<polygon points="309.4,1112.5 328.9,1146.3 289.9,1146.3" fill="#0000ff"/>
<polygon points="335.9,1014.9 355.4,1048.7 316.4,1048.7" fill="#0000ff"/>
<polygon points="388.8,904.5 408.3,938.3 369.3,938.3" fill="#0000ff"/>
<polygon points="494.6,774.5 514.1,808.3 475.1,808.3" fill="#0000ff"/>
<polygon points="706.2,580.5 725.7,614.3 686.7,614.3" fill="#0000ff"/>
<polygon points="1129.4,438.7 1148.9,472.5 1109.9,472.5" fill="#0000ff"/>
<polygon points="1552.6,504.7 1572.1,538.5 1533.1,538.5" fill="#0000ff"/>
<polygon points="1975.8,602.4 1995.3,636.2 1956.3,636.2" fill="#0000ff"/>
<path d="M267,1225H299M267,1255H299M309.4,1138.6V1172.1M309.4,1203.1V1236.7M293.4,1138.6H325.4M293.4,1236.7H325.4M335.9,1093V1147.5M335.9,1178.5V1230.5M319.9,1093H351.9M319.9,1230.5H351.9M388.8,1058V1103.1M388.8,1134.1V1179M372.8,1058H404.8M372.8,1179H404.8M494.6,1031.5V1060M494.6,1091V1119.6M478.6,1031.5H510.6M478.6,1119.6H510.6M706.2,942.5V965.7M706.2,996.7V1019.6M690.2,942.5H722.2M690.2,1019.6H722.2M1129.4,851.2V879.5M1129.4,910.5V938.8M1113.4,851.2H1145.4M1113.4,938.8H1145.4M1552.6,771V787.8M1552.6,818.8V835.5M1536.6,771H1568.6M1536.6,835.5H1568.6M1975.8,747.3V754.3M1975.8,785.3V792.4M1959.8,747.3H1991.8M1959.8,792.4H1991.8" stroke="#000000" stroke-width="8.5" fill="none"/>
<path d="M267,1228H299M267,1258H299M309.4,1168V1189.5M309.4,1220.5V1242.4M293.4,1168H325.4M293.4,1242.4H325.4M335.9,997.5V1042.5M335.9,1073.5V1118.3M319.9,997.5H351.9M319.9,1118.3H351.9M388.8,1015V1021.3M388.8,1052.3V1058.6M372.8,1015H404.8M372.8,1058.6H404.8M494.6,770V804.5M494.6,835.5V870M478.6,770H510.6M478.6,870H510.6M706.2,559.5V609.5M706.2,640.5V691M690.2,559.5H722.2M690.2,691H722.2M1129.4,351.7V374.3M1129.4,405.3V427.9M1113.4,351.7H1145.4M1113.4,427.9H1145.4M1552.6,179.6V195.8M1552.6,226.8V243M1536.6,179.6H1568.6M1536.6,243H1568.6M1975.8,308.2V320.4M1975.8,351.4V363.5M1959.8,308.2H1991.8M1959.8,363.5H1991.8" stroke="#ff0000" stroke-width="8.5" fill="none"/>
<path d="M267,1236H299M267,1252H299M309.4,1103.3V1119.5M309.4,1150.5V1167M293.4,1103.3H325.4M293.4,1167H325.4M335.9,986.3V1021.9M335.9,1052.9V1088.5M319.9,986.3H351.9M319.9,1088.5H351.9M388.8,899V911.5M388.8,942.5V955M372.8,899H404.8M372.8,955H404.8M494.6,776V781.5M494.6,812.5V818M478.6,776H510.6M478.6,818H510.6M706.2,554V587.5M706.2,618.5V651.5M690.2,554H722.2M690.2,651.5H722.2M1129.4,407.4V445.7M1129.4,476.7V515M1113.4,407.4H1145.4M1113.4,515H1145.4M1552.6,483.3V511.7M1552.6,542.7V571M1536.6,483.3H1568.6M1536.6,571H1568.6M1975.8,586.9V609.4M1975.8,640.4V662.8M1959.8,586.9H1991.8M1959.8,662.8H1991.8" stroke="#0000ff" stroke-width="8.5" fill="none"/>
<path d="M283,1262 L283.3,1258 L283.7,1253.9 L284,1249.9 L284.3,1245.8 L284.7,1241.8 L285,1237.8 L285.3,1233.7 L285.6,1229.7 L286,1225.6 L286.3,1221.6 L286.6,1217.5 L287,1213.5 L287.3,1209.4 L287.6,1205.4 L288,1201.3 L288.3,1197.2 L288.6,1193.2 L289,1189.1 L289.3,1185 L289.6,1180.9 L289.9,1176.9 L290.3,1172.8 L290.6,1168.7 L290.9,1164.6 L291.3,1160.5 L291.6,1156.4 L291.9,1152.2 L292.3,1148.1 L292.6,1144 L292.9,1139.9 L293.2,1135.7 L293.6,1131.6 L293.9,1127.4 L294.2,1123.2 L294.6,1119.1 L294.9,1114.9 L295.2,1110.7 L295.6,1106.5 L295.9,1102.3 L296.2,1098.1 L296.6,1093.9 L296.9,1089.6 L297.2,1085.4 L297.5,1081.1 L297.9,1076.9 L298.2,1072.6 L298.5,1068.3 L298.9,1064 L299.2,1059.7 L299.5,1055.4 L299.9,1051.1 L300.2,1046.7 L300.5,1042.4 L300.9,1038 L301.2,1033.7 L301.5,1029.3 L301.8,1024.9 L302.2,1020.5 L302.5,1016 L302.8,1011.6 L303.2,1007.1 L303.5,1002.7 L303.8,998.2 L304.2,993.7 L304.5,989.2 L304.8,984.7 L305.2,980.1 L305.5,975.6 L305.8,971 L306.1,966.4 L306.5,961.8 L306.8,957.2 L307.1,952.6 L307.5,947.9 L307.8,943.3 L308.1,938.6 L308.5,933.9 L308.8,929.2 L309.1,924.4 L309.4,919.7 L309.8,914.9 L310.1,910.1 L310.4,905.3 L310.8,900.5 L311.1,895.7 L311.4,890.8 L311.8,886 L312.1,881.1 L312.4,876.2 L312.8,871.4 L313.1,866.5 L313.4,861.6 L313.8,856.7 L314.1,851.8 L314.4,846.9 L314.8,842.1 L315.1,837.2 L315.5,832.3 L315.8,827.4 L316.1,822.6 L316.5,817.7 L316.8,812.9 L317.2,808 L317.5,803.2 L317.9,798.4 L318.2,793.6 L318.5,788.8 L318.9,784.1 L319.2,779.3 L319.6,774.6 L320,769.9 L320.3,765.2 L320.7,760.6 L321,755.9 L321.4,751.3 L321.8,746.8 L322.1,742.2 L322.5,737.7 L322.9,733.2 L323.2,728.8 L323.6,724.4 L324,720 L324.4,715.7 L324.7,711.4 L325.1,707.1 L325.5,702.9 L325.9,698.7 L326.3,694.6 L326.7,690.5 L327.1,686.5 L327.5,682.5 L327.9,678.5 L328.3,674.7 L328.7,670.8 L329.1,667 L329.5,663.3 L329.9,659.6 L330.3,656 L330.7,652.5 L331.1,649 L331.6,645.5 L332,642.2 L332.4,638.8 L332.9,635.6 L333.3,632.4 L333.7,629.3 L334.2,626.3 L334.6,623.3 L335.1,620.4 L335.5,617.6 L336,614.8 L336.5,612.2 L336.9,609.6 L337.4,607 L337.9,604.6 L338.4,602.3 L338.8,600 L339.3,597.8 L339.8,595.7 L340.3,593.7 L340.8,591.7 L341.3,589.9 L341.8,588.1 L342.3,586.5 L342.8,584.9 L343.4,583.4 L343.9,581.9 L344.4,580.6 L344.9,579.3 L345.5,578.1 L346,577 L346.6,576 L347.1,575.1 L347.7,574.2 L348.2,573.4 L348.8,572.6 L349.4,572 L350,571.4 L350.5,570.9 L351.1,570.4 L351.7,570 L352.3,569.7 L352.9,569.5 L353.5,569.3 L354.1,569.2 L354.8,569.1 L355.4,569.1 L356,569.2 L356.6,569.3 L357.3,569.5 L357.9,569.8 L358.6,570.1 L359.2,570.4 L359.9,570.9 L360.6,571.3 L361.2,571.9 L361.9,572.4 L362.6,573.1 L363.3,573.7 L364,574.5 L364.7,575.3 L365.4,576.1 L366.1,577 L366.9,577.9 L367.6,578.8 L368.3,579.8 L369.1,580.9 L369.8,582 L370.6,583.1 L371.3,584.3 L372.1,585.5 L372.9,586.8 L373.7,588 L374.5,589.4 L375.3,590.7 L376.1,592.1 L376.9,593.5 L377.7,595 L378.5,596.5 L379.4,598 L380.2,599.5 L381.1,601.1 L381.9,602.7 L382.8,604.4 L383.6,606 L384.5,607.7 L385.4,609.4 L386.3,611.1 L387.2,612.9 L388.1,614.6 L389,616.4 L389.9,618.2 L390.9,620 L391.8,621.9 L392.8,623.7 L393.7,625.6 L394.7,627.5 L395.6,629.3 L396.6,631.3 L397.6,633.2 L398.6,635.1 L399.6,637 L400.6,639 L401.7,640.9 L402.7,642.9 L403.7,644.8 L404.8,646.8 L405.8,648.8 L406.9,650.8 L408,652.8 L409.1,654.8 L410.1,656.8 L411.2,658.9 L412.4,660.9 L413.5,662.9 L414.6,665 L415.8,667.1 L416.9,669.1 L418.1,671.2 L419.2,673.3 L420.4,675.4 L421.6,677.5 L422.8,679.6 L424,681.7 L425.3,683.8 L426.5,685.9 L427.7,688 L429,690.2 L430.3,692.3 L431.6,694.4 L432.8,696.6 L434.2,698.7 L435.5,700.9 L436.8,703.1 L438.1,705.2 L439.5,707.4 L440.8,709.6 L442.2,711.8 L443.6,714 L445,716.2 L446.4,718.4 L447.8,720.6 L449.3,722.8 L450.7,725 L452.2,727.2 L453.7,729.4 L455.2,731.6 L456.7,733.9 L458.2,736.1 L459.7,738.3 L461.2,740.6 L462.8,742.8 L464.4,745 L465.9,747.3 L467.5,749.5 L469.1,751.8 L470.8,754 L472.4,756.3 L474.1,758.5 L475.7,760.8 L477.4,763.1 L479.1,765.3 L480.8,767.6 L482.5,769.9 L484.3,772.1 L486,774.4 L487.8,776.7 L489.6,778.9 L491.4,781.2 L493.2,783.5 L495,785.7 L496.9,788 L498.7,790.3 L500.6,792.5 L502.5,794.8 L504.4,797.1 L506.4,799.4 L508.3,801.6 L510.3,803.9 L512.2,806.2 L514.2,808.4 L516.2,810.7 L518.3,813 L520.3,815.2 L522.4,817.5 L524.4,819.8 L526.5,822 L528.6,824.3 L530.8,826.5 L532.9,828.8 L535.1,831.1 L537.3,833.3 L539.5,835.6 L541.7,837.8 L544,840.1 L546.2,842.3 L548.5,844.6 L550.8,846.8 L553.1,849.1 L555.5,851.3 L557.9,853.6 L560.2,855.8 L562.7,858.1 L565.1,860.3 L567.5,862.5 L570,864.8 L572.5,867 L575,869.2 L577.6,871.5 L580.1,873.7 L582.7,875.9 L585.3,878.1 L587.9,880.4 L590.6,882.6 L593.3,884.8 L596,887 L598.7,889.2 L601.4,891.4 L604.2,893.6 L607,895.9 L609.8,898.1 L612.7,900.3 L615.6,902.5 L618.5,904.7 L621.4,906.8 L624.3,909 L627.3,911.2 L630.3,913.4 L633.3,915.6 L636.4,917.8 L639.5,920 L642.6,922.1 L645.7,924.3 L648.9,926.5 L652.1,928.6 L655.3,930.8 L658.5,933 L661.8,935.1 L665.1,937.3 L668.5,939.4 L671.8,941.6 L675.2,943.7 L678.6,945.8 L682.1,948 L685.6,950.1 L689.1,952.2 L692.6,954.4 L696.2,956.5 L699.8,958.6 L703.4,960.7 L707.1,962.8 L710.8,964.9 L714.5,967 L718.2,969.1 L722,971.2 L725.9,973.3 L729.7,975.4 L733.6,977.5 L737.5,979.6 L741.5,981.7 L745.5,983.7 L749.5,985.8 L753.5,987.9 L757.6,989.9 L761.7,992 L765.9,994 L770,996.1 L774.2,998.1 L778.5,1000.2 L782.7,1002.2 L787,1004.2 L791.3,1006.2 L795.7,1008.3 L800.1,1010.3 L804.5,1012.3 L808.9,1014.3 L813.4,1016.3 L817.8,1018.2 L822.3,1020.2 L826.9,1022.2 L831.4,1024.2 L836,1026.1 L840.6,1028.1 L845.3,1030 L849.9,1032 L854.6,1033.9 L859.3,1035.8 L864,1037.7 L868.7,1039.6 L873.5,1041.5 L878.3,1043.4 L883.1,1045.3 L887.9,1047.2 L892.8,1049.1 L897.6,1050.9 L902.5,1052.8 L907.4,1054.6 L912.3,1056.5 L917.3,1058.3 L922.2,1060.1 L927.2,1061.9 L932.2,1063.8 L937.2,1065.5 L942.2,1067.3 L947.2,1069.1 L952.2,1070.9 L957.3,1072.6 L962.4,1074.4 L967.5,1076.1 L972.6,1077.8 L977.7,1079.6 L982.8,1081.3 L987.9,1083 L993.1,1084.6 L998.2,1086.3 L1003.4,1088 L1008.6,1089.6 L1013.8,1091.3 L1018.9,1092.9 L1024.2,1094.5 L1029.4,1096.1 L1034.6,1097.7 L1039.8,1099.3 L1045,1100.9 L1050.3,1102.5 L1055.5,1104 L1060.8,1105.6 L1066,1107.1 L1071.3,1108.6 L1076.6,1110.1 L1081.8,1111.6 L1087.1,1113.1 L1092.4,1114.5 L1097.7,1116 L1103,1117.4 L1108.2,1118.8 L1113.5,1120.3 L1118.8,1121.7 L1124.1,1123 L1129.4,1124.4 L1134.7,1125.8 L1140,1127.1 L1145.3,1128.5 L1150.6,1129.8 L1155.8,1131.1 L1161.1,1132.4 L1166.4,1133.7 L1171.7,1134.9 L1177,1136.2 L1182.3,1137.4 L1187.6,1138.6 L1192.9,1139.9 L1198.2,1141.1 L1203.5,1142.3 L1208.8,1143.5 L1214,1144.6 L1219.3,1145.8 L1224.6,1146.9 L1229.9,1148.1 L1235.2,1149.2 L1240.5,1150.3 L1245.8,1151.4 L1251.1,1152.5 L1256.4,1153.6 L1261.7,1154.7 L1266.9,1155.8 L1272.2,1156.8 L1277.5,1157.9 L1282.8,1158.9 L1288.1,1160 L1293.4,1161 L1298.7,1162 L1304,1163 L1309.3,1164 L1314.5,1165 L1319.8,1166 L1325.1,1166.9 L1330.4,1167.9 L1335.7,1168.9 L1341,1169.8 L1346.3,1170.8 L1351.6,1171.7 L1356.9,1172.6 L1362.2,1173.5 L1367.4,1174.5 L1372.7,1175.4 L1378,1176.3 L1383.3,1177.2 L1388.6,1178.1 L1393.9,1178.9 L1399.2,1179.8 L1404.5,1180.7 L1409.8,1181.6 L1415.1,1182.4 L1420.3,1183.3 L1425.6,1184.1 L1430.9,1185 L1436.2,1185.8 L1441.5,1186.7 L1446.8,1187.5 L1452.1,1188.3 L1457.4,1189.2 L1462.7,1190 L1468,1190.8 L1473.2,1191.6 L1478.5,1192.4 L1483.8,1193.2 L1489.1,1194.1 L1494.4,1194.9 L1499.7,1195.7 L1505,1196.5 L1510.3,1197.3 L1515.6,1198 L1520.9,1198.8 L1526.1,1199.6 L1531.4,1200.4 L1536.7,1201.2 L1542,1202 L1547.3,1202.8 L1552.6,1203.6 L1557.9,1204.3 L1563.2,1205.1 L1568.5,1205.9 L1573.8,1206.7 L1579,1207.5 L1584.3,1208.3 L1589.6,1209 L1594.9,1209.8 L1600.2,1210.6 L1605.5,1211.4 L1610.8,1212.1 L1616.1,1212.9 L1621.4,1213.7 L1626.7,1214.5 L1631.9,1215.2 L1637.2,1216 L1642.5,1216.8 L1647.8,1217.5 L1653.1,1218.3 L1658.4,1219.1 L1663.7,1219.8 L1669,1220.6 L1674.3,1221.4 L1679.6,1222.1 L1684.8,1222.9 L1690.1,1223.7 L1695.4,1224.4 L1700.7,1225.2 L1706,1226 L1711.3,1226.7 L1716.6,1227.5 L1721.9,1228.3 L1727.2,1229 L1732.5,1229.8 L1737.8,1230.5 L1743,1231.3 L1748.3,1232.1 L1753.6,1232.8 L1758.9,1233.6 L1764.2,1234.3 L1769.5,1235.1 L1774.8,1235.8 L1780.1,1236.6 L1785.4,1237.4 L1790.6,1238.1 L1795.9,1238.9 L1801.2,1239.6 L1806.5,1240.4 L1811.8,1241.1 L1817.1,1241.9 L1822.4,1242.6 L1827.7,1243.4 L1833,1244.1 L1838.3,1244.9 L1843.5,1245.7 L1848.8,1246.4 L1854.1,1247.2 L1859.4,1247.9 L1864.7,1248.7 L1870,1249.4 L1875.3,1250.2 L1880.6,1250.9 L1885.9,1251.7 L1891.2,1252.4 L1896.4,1253.2 L1901.7,1253.9 L1907,1254.7 L1912.3,1255.4 L1917.6,1256.2 L1922.9,1256.9 L1928.2,1257.7 L1933.5,1258.4 L1938.8,1259.2 L1944.1,1259.9 L1949.3,1260.7 L1954.6,1261.4 L1959.9,1262.2 L1965.2,1262.9 L1970.5,1263.7 L1975.8,1264.4" stroke="#ff00ff" stroke-width="17" fill="none" stroke-linejoin="round" stroke-linecap="round"/>
<polygon points="263.5,1250.7 302.5,1250.7 283,1284.5" fill="#ff00ff"/>
<polygon points="289.9,927.7 328.9,927.7 309.4,961.5" fill="#ff00ff"/>
<polygon points="316.4,488.7 355.4,488.7 335.9,522.5" fill="#ff00ff"/>
<polygon points="369.3,611.7 408.3,611.7 388.8,645.5" fill="#ff00ff"/>
<polygon points="475.1,795.7 514.1,795.7 494.6,829.5" fill="#ff00ff"/>
<polygon points="686.7,974.7 725.7,974.7 706.2,1008.5" fill="#ff00ff"/>
<polygon points="1109.9,1127.7 1148.9,1127.7 1129.4,1161.5" fill="#ff00ff"/>
<polygon points="1533.1,1193.2 1572.1,1193.2 1552.6,1227" fill="#ff00ff"/>
<polygon points="1956.3,1253.1 1995.3,1253.1 1975.8,1286.9" fill="#ff00ff"/>
<path d="M283,1238V1246.5M283,1277.5V1286.5M267,1238H299M267,1286.5H299M309.4,868V923.5M309.4,954.5V1010M293.4,868H325.4M293.4,1010H325.4M335.9,435.8V484.5M335.9,515.5V564M319.9,435.8H351.9M319.9,564H351.9M388.8,579V607.5M388.8,638.5V667M372.8,579H404.8M372.8,667H404.8M494.6,746V791.5M494.6,822.5V868M478.6,746H510.6M478.6,868H510.6M706.2,970V970.5M706.2,1001.5V1002.5M690.2,970H722.2M690.2,1002.5H722.2M1129.4,1095V1123.5M1129.4,1154.5V1182.9M1113.4,1095H1145.4M1113.4,1182.9H1145.4M1552.6,1182V1189M1552.6,1220V1227M1536.6,1182H1568.6M1536.6,1227H1568.6M1975.8,1215V1248.9M1975.8,1279.9V1313.7M1959.8,1215H1991.8M1959.8,1313.7H1991.8" stroke="#ff00ff" stroke-width="8.5" fill="none"/>
</g>
<g style="font-family:'Liberation Serif','Times New Roman',serif;stroke:#000;stroke-width:1.2px;font-size:90px" fill="#000"><text x="280" y="1502" text-anchor="middle">0</text><text x="544.5" y="1502" text-anchor="middle">5</text><text x="809" y="1502" text-anchor="middle">10</text><text x="1073.5" y="1502" text-anchor="middle">15</text><text x="1338" y="1502" text-anchor="middle">20</text><text x="1602.5" y="1502" text-anchor="middle">25</text><text x="1867" y="1502" text-anchor="middle">30</text><text x="2131.5" y="1502" text-anchor="middle">35</text><text x="267.5" y="1445.6" text-anchor="end">95</text><text x="267.5" y="1174.7" text-anchor="end">100</text><text x="267.5" y="903.8" text-anchor="end">105</text><text x="267.5" y="632.9" text-anchor="end">110</text><text x="267.5" y="362" text-anchor="end">115</text><text x="267.5" y="91.1" text-anchor="end">120</text></g>
<text x="1206.5" y="1647" text-anchor="middle" style="font-family:'Liberation Serif','Times New Roman',serif;stroke:#000;stroke-width:1.2px;font-size:93px">Aging time / h</text>
<text transform="translate(84,804.5) rotate(-90)" text-anchor="middle" style="font-family:'Liberation Serif','Times New Roman',serif;stroke:#000;stroke-width:1.2px;font-size:93.5px">Hardness (HV)</text>
<g><rect x="404" y="147.5" width="180.5" height="16.6" rx="5" fill="#000000"/><rect x="479.5" y="139.3" width="33" height="33" fill="#000000"/><text x="592" y="180" style="font-family:'Liberation Serif','Times New Roman',serif;stroke:#000;stroke-width:1.2px;font-size:73px">120°C</text><rect x="404" y="238.9" width="180.5" height="16.6" rx="5" fill="#ff0000"/><circle cx="496" cy="247.2" r="17.5" fill="#ff0000"/><text x="592" y="268.2" style="font-family:'Liberation Serif','Times New Roman',serif;stroke:#000;stroke-width:1.2px;font-size:73px">160°C</text><rect x="404" y="327.3" width="180.5" height="16.6" rx="5" fill="#0000ff"/><polygon points="496,310.9 517.4,347.9 474.6,347.9" fill="#0000ff"/><text x="592" y="360.1" style="font-family:'Liberation Serif','Times New Roman',serif;stroke:#000;stroke-width:1.2px;font-size:73px">210°C</text><rect x="404" y="419.2" width="180.5" height="16.6" rx="5" fill="#ff00ff"/><polygon points="474.6,415.2 517.4,415.2 496,452.2" fill="#ff00ff"/><text x="592" y="451" style="font-family:'Liberation Serif','Times New Roman',serif;stroke:#000;stroke-width:1.2px;font-size:73px">270°C</text></g></svg>
</body></html>
